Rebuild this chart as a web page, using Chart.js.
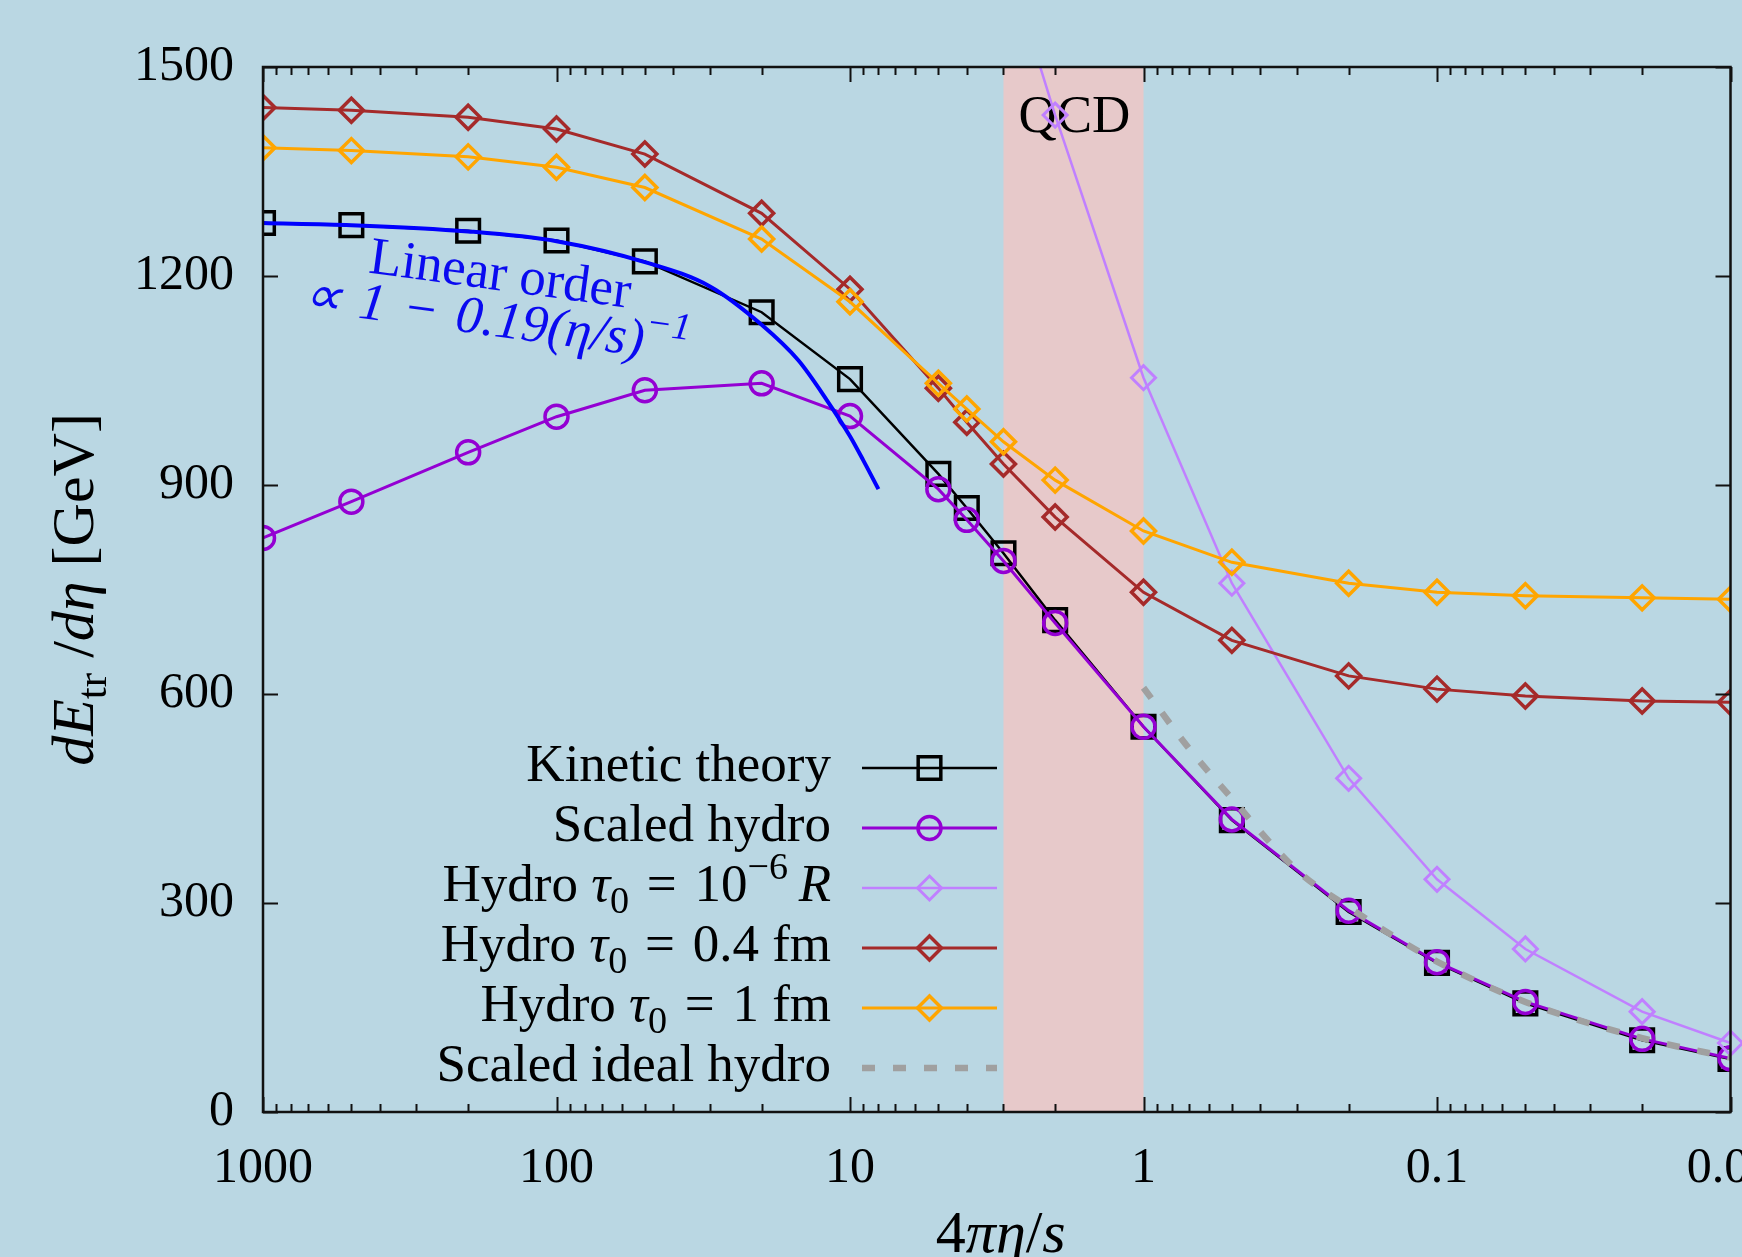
<!DOCTYPE html>
<html>
<head>
<meta charset="utf-8">
<title>dE/deta vs 4 pi eta/s</title>
<script src="https://cdn.jsdelivr.net/npm/chart.js@4.4.1/dist/chart.umd.min.js"></script>
<style>
  html, body { margin: 0; padding: 0; background: #bad7e3; overflow: hidden; }
  #wrap { width: 1742px; height: 1257px; overflow: hidden; }
</style>
</head>
<body>
<!-- canvas is a bit wider than the page so the plot runs to the right edge, like the original -->
<div id="wrap"><canvas id="chart" width="1750" height="1257"></canvas></div>
<script>
// 4 pi eta/s values shared by most of the series
const etaS = [1000, 500, 200, 100, 50, 20, 10, 5, 4, 3, 2, 1, 0.5, 0.2, 0.1, 0.05, 0.02, 0.01];
const kinetic = [1276, 1273, 1265, 1251, 1221, 1148, 1052, 916, 867, 802, 706, 553, 419, 287, 214, 156, 103, 76];
const scaledHydro = [824, 876, 947, 998, 1036, 1046, 999, 894, 850, 791, 702, 553, 420, 289, 215, 158, 105, 77];
const hydroTau04 = [1442, 1438, 1428, 1411, 1375, 1290, 1181, 1039, 990, 930, 854, 746, 677, 626, 607, 597, 590, 588];
const hydroTau1 = [1384, 1380, 1371, 1356, 1327, 1253, 1163, 1046, 1009, 962, 907, 834, 789, 759, 746, 741, 738, 736];

// tau0 = 1e-6 R comes in from above the top of the plot
const etaSTiny = [3, 2, 1, 0.5, 0.2, 0.1, 0.05, 0.02, 0.01];
const hydroTauTiny = [1670, 1431, 1054, 759, 479, 334, 234, 144, 99];

const etaSIdeal = [1, 0.7, 0.5, 0.3, 0.2, 0.1, 0.05, 0.02, 0.01];
const scaledIdeal = [609, 522, 450, 347, 294, 216, 158, 106, 78];

const etaSLinear = [1000, 500, 200, 100, 50, 30, 20, 15, 12, 10, 9, 8];
const linearOrder = [1276, 1273, 1264, 1250, 1220, 1185, 1130, 1079, 1022, 970, 935, 894];

const xMajorTicks = [1000, 100, 10, 1, 0.1, 0.01];
const xTickLabels = ['1000', '100', '10', '1', '0.1', '0.01'];
const yTicks = [0, 300, 600, 900, 1200, 1500];
const qcdBand = [1, 3];

const FONT = '"Liberation Serif", "Times New Roman", serif';
const BG = '#bad7e3';
const SP = '\u2004'; // a bit wider than a normal space, like TeX math spacing

// minor log ticks 2..9 in each decade
const xMinorTicks = [];
xMajorTicks.forEach(d => {
  if (d >= 1000) return;
  for (let m = 2; m <= 9; m++) xMinorTicks.push(Number((d * m).toPrecision(6)));
});

function pts(xs, ys) {
  return xs.map((x, i) => ({ x: x, y: ys[i] }));
}

// text made of runs: {t, it, sub, sup}
function runsWidth(ctx, runs, size) {
  let w = 0;
  runs.forEach(r => {
    const s = (r.sub || r.sup) ? size * 0.72 : size;
    ctx.font = (r.it ? 'italic ' : '') + s + 'px ' + FONT;
    w += ctx.measureText(r.t).width;
  });
  return w;
}

function drawRuns(ctx, runs, x, y, size) {
  let cx = x;
  runs.forEach(r => {
    const s = (r.sub || r.sup) ? size * 0.72 : size;
    ctx.font = (r.it ? 'italic ' : '') + s + 'px ' + FONT;
    const dy = r.sub ? size * 0.22 : (r.sup ? -size * 0.42 : 0);
    ctx.fillText(r.t, cx, y + dy);
    cx += ctx.measureText(r.t).width;
  });
}

function drawMarker(ctx, style, x, y, r) {
  ctx.beginPath();
  if (style === 'circle') {
    ctx.arc(x, y, r, 0, Math.PI * 2);
  } else if (style === 'rect') {
    const s = r * Math.SQRT1_2;
    ctx.rect(x - s, y - s, 2 * s, 2 * s);
  } else if (style === 'rectRot') {
    ctx.moveTo(x - r, y);
    ctx.lineTo(x, y - r);
    ctx.lineTo(x + r, y);
    ctx.lineTo(x, y + r);
    ctx.closePath();
  }
  ctx.stroke();
}

const decorations = {
  id: 'decorations',
  beforeDraw(chart) {
    const ctx = chart.ctx;
    ctx.save();
    ctx.fillStyle = BG;
    ctx.fillRect(0, 0, chart.width, chart.height);
    ctx.restore();
  },
  beforeDatasetsDraw(chart) {
    const ctx = chart.ctx, a = chart.chartArea, xs = chart.scales.x;
    const x0 = xs.getPixelForValue(qcdBand[1]);
    const x1 = xs.getPixelForValue(qcdBand[0]);
    ctx.save();
    ctx.fillStyle = '#e7c9ca';
    ctx.fillRect(x0, a.top, x1 - x0, a.height);
    ctx.fillStyle = '#000';
    ctx.textBaseline = 'alphabetic';
    ctx.font = '53px ' + FONT;
    ctx.fillText('QCD', x0 + 15, a.top + 65);
    ctx.restore();
  },
  afterDatasetsDraw(chart) {
    const ctx = chart.ctx, a = chart.chartArea;
    const xs = chart.scales.x, ys = chart.scales.y;
    ctx.save();

    // frame with inward ticks on all four sides
    ctx.strokeStyle = '#111';
    ctx.lineWidth = 2;
    ctx.beginPath();
    xs.ticks.forEach(t => {
      const px = Math.round(xs.getPixelForValue(t.value)) + 0.5;
      const len = t.major ? 15 : 8;
      ctx.moveTo(px, a.bottom); ctx.lineTo(px, a.bottom - len);
      ctx.moveTo(px, a.top); ctx.lineTo(px, a.top + len);
    });
    ys.ticks.forEach(t => {
      const py = Math.round(ys.getPixelForValue(t.value)) + 0.5;
      ctx.moveTo(a.left, py); ctx.lineTo(a.left + 15, py);
      ctx.moveTo(a.right, py); ctx.lineTo(a.right - 15, py);
    });
    ctx.stroke();
    ctx.lineWidth = 2.5;
    ctx.strokeRect(a.left, a.top, a.right - a.left, a.bottom - a.top);

    // linear order annotation
    ctx.fillStyle = '#0a0af0';
    ctx.textBaseline = 'alphabetic';
    ctx.translate(xs.getPixelForValue(440), ys.getPixelForValue(1205));
    ctx.rotate(7.7 * Math.PI / 180);
    drawRuns(ctx, [{ t: 'Linear order' }], 0, 0, 53);
    drawRuns(ctx, [
      { t: '\u221d' + SP + '1' + SP + '\u2212' + SP + '0.19(', it: true },
      { t: '\u03b7/s', it: true },
      { t: ')', it: true },
      { t: '\u22121', it: true, sup: true }
    ], -60, 46, 53);
    ctx.setTransform(1, 0, 0, 1, 0, 0);

    // legend: text right aligned, sample line on the right
    const textRight = a.left + 568;
    const lineL = a.left + 599, lineR = a.left + 734;
    let row = 0;
    chart.data.datasets.forEach(ds => {
      if (!ds.legendText) return;
      const cy = a.top + 701 + row * 60;
      ctx.fillStyle = '#000';
      const w = runsWidth(ctx, ds.legendText, 53);
      drawRuns(ctx, ds.legendText, textRight - w, cy + 13, 53);
      ctx.strokeStyle = ds.borderColor;
      ctx.lineWidth = ds.borderWidth;
      ctx.setLineDash(ds.borderDash || []);
      ctx.beginPath();
      ctx.moveTo(lineL, cy);
      ctx.lineTo(lineR, cy);
      ctx.stroke();
      ctx.setLineDash([]);
      if (ds.pointRadius > 0) {
        ctx.lineWidth = ds.pointBorderWidth;
        drawMarker(ctx, ds.pointStyle, (lineL + lineR) / 2, cy, ds.pointRadius);
      }
      row++;
    });

    // axis titles
    ctx.fillStyle = '#000';
    const xTitle = [{ t: '4' }, { t: '\u03c0\u03b7', it: true }, { t: '/' }, { t: 's', it: true }];
    const xw = runsWidth(ctx, xTitle, 60);
    drawRuns(ctx, xTitle, (a.left + a.right) / 2 - xw / 2 + 4, 1252, 60);

    const yTitle = [
      { t: 'dE', it: true }, { t: 'tr', sub: true }, { t: ' /' },
      { t: 'd\u03b7', it: true }, { t: ' [GeV]' }
    ];
    const yw = runsWidth(ctx, yTitle, 60);
    ctx.translate(93, (a.top + a.bottom) / 2);
    ctx.rotate(-Math.PI / 2);
    drawRuns(ctx, yTitle, -yw / 2, 0, 60);
    ctx.restore();
  }
};

const ctx = document.getElementById('chart').getContext('2d');
const chart = new Chart(ctx, {
  type: 'line',
  data: {
    datasets: [
      {
        label: 'Kinetic theory',
        legendText: [{ t: 'Kinetic theory' }],
        data: pts(etaS, kinetic),
        borderColor: '#000000',
        borderWidth: 2.5,
        pointStyle: 'rect',
        pointRadius: 16,
        pointBorderWidth: 3.5,
        pointBackgroundColor: 'rgba(0,0,0,0)',
        order: 6
      },
      {
        label: 'Scaled hydro',
        legendText: [{ t: 'Scaled hydro' }],
        data: pts(etaS, scaledHydro),
        borderColor: '#9400d3',
        borderWidth: 3,
        pointStyle: 'circle',
        pointRadius: 11.5,
        pointBorderWidth: 3.5,
        pointBackgroundColor: 'rgba(0,0,0,0)',
        order: 5
      },
      {
        label: 'Hydro tau0 = 1e-6 R',
        legendText: [{ t: 'Hydro ' }, { t: '\u03c4', it: true }, { t: '0', sub: true },
          { t: SP + '=' + SP + '10' }, { t: '\u22126', sup: true }, { t: '\u2009R', it: true }],
        data: pts(etaSTiny, hydroTauTiny),
        borderColor: '#c080ff',
        borderWidth: 2.5,
        pointStyle: 'rectRot',
        pointRadius: 12,
        pointBorderWidth: 3,
        pointBackgroundColor: 'rgba(0,0,0,0)',
        clip: { left: 20, top: 0, right: 20, bottom: 20 },
        order: 4
      },
      {
        label: 'Hydro tau0 = 0.4 fm',
        legendText: [{ t: 'Hydro ' }, { t: '\u03c4', it: true }, { t: '0', sub: true },
          { t: SP + '=' + SP + '0.4 fm' }],
        data: pts(etaS, hydroTau04),
        borderColor: '#a52a2a',
        borderWidth: 3,
        pointStyle: 'rectRot',
        pointRadius: 12,
        pointBorderWidth: 3.5,
        pointBackgroundColor: 'rgba(0,0,0,0)',
        order: 3
      },
      {
        label: 'Hydro tau0 = 1 fm',
        legendText: [{ t: 'Hydro ' }, { t: '\u03c4', it: true }, { t: '0', sub: true },
          { t: SP + '=' + SP + '1 fm' }],
        data: pts(etaS, hydroTau1),
        borderColor: '#ffa500',
        borderWidth: 3,
        pointStyle: 'rectRot',
        pointRadius: 12,
        pointBorderWidth: 3.5,
        pointBackgroundColor: 'rgba(0,0,0,0)',
        order: 2
      },
      {
        label: 'Scaled ideal hydro',
        legendText: [{ t: 'Scaled ideal hydro' }],
        data: pts(etaSIdeal, scaledIdeal),
        borderColor: '#a0a0a0',
        borderWidth: 6.5,
        borderDash: [13, 18],
        cubicInterpolationMode: 'monotone',
        pointRadius: 0,
        order: 1
      },
      {
        label: 'Linear order',
        data: pts(etaSLinear, linearOrder),
        borderColor: '#0000ff',
        borderWidth: 4,
        cubicInterpolationMode: 'monotone',
        pointRadius: 0,
        order: 0
      }
    ]
  },
  options: {
    responsive: false,
    devicePixelRatio: 1,
    animation: false,
    layout: { padding: { top: 67, right: 6, bottom: 0, left: 0 } },
    plugins: {
      legend: { display: false },
      tooltip: { enabled: false }
    },
    scales: {
      x: {
        type: 'logarithmic',
        position: 'bottom',
        reverse: true,
        min: 0.01,
        max: 1000,
        grid: { display: false },
        border: { display: false },
        afterBuildTicks: s => {
          s.ticks = xMajorTicks.concat(xMinorTicks)
            .sort((p, q) => p - q)
            .map(v => ({ value: v, major: xMajorTicks.includes(v) }));
        },
        afterFit: s => {
          s.height = 145;
          s.paddingLeft = 0;
          s.paddingRight = 0;
        },
        ticks: {
          autoSkip: false,
          maxRotation: 0,
          minRotation: 0,
          padding: 19,
          color: '#000',
          font: { family: FONT, size: 50 },
          callback: v => {
            const i = xMajorTicks.indexOf(v);
            return i >= 0 ? xTickLabels[i] : '';
          }
        }
      },
      y: {
        type: 'linear',
        min: 0,
        max: 1500,
        grid: { display: false },
        border: { display: false },
        afterBuildTicks: s => {
          s.ticks = yTicks.map(v => ({ value: v }));
        },
        afterFit: s => {
          s.width = 263;
        },
        ticks: {
          padding: 21,
          color: '#000',
          font: { family: FONT, size: 50 },
          callback: v => String(v)
        }
      }
    }
  },
  plugins: [decorations]
});
</script>
</body>
</html>
